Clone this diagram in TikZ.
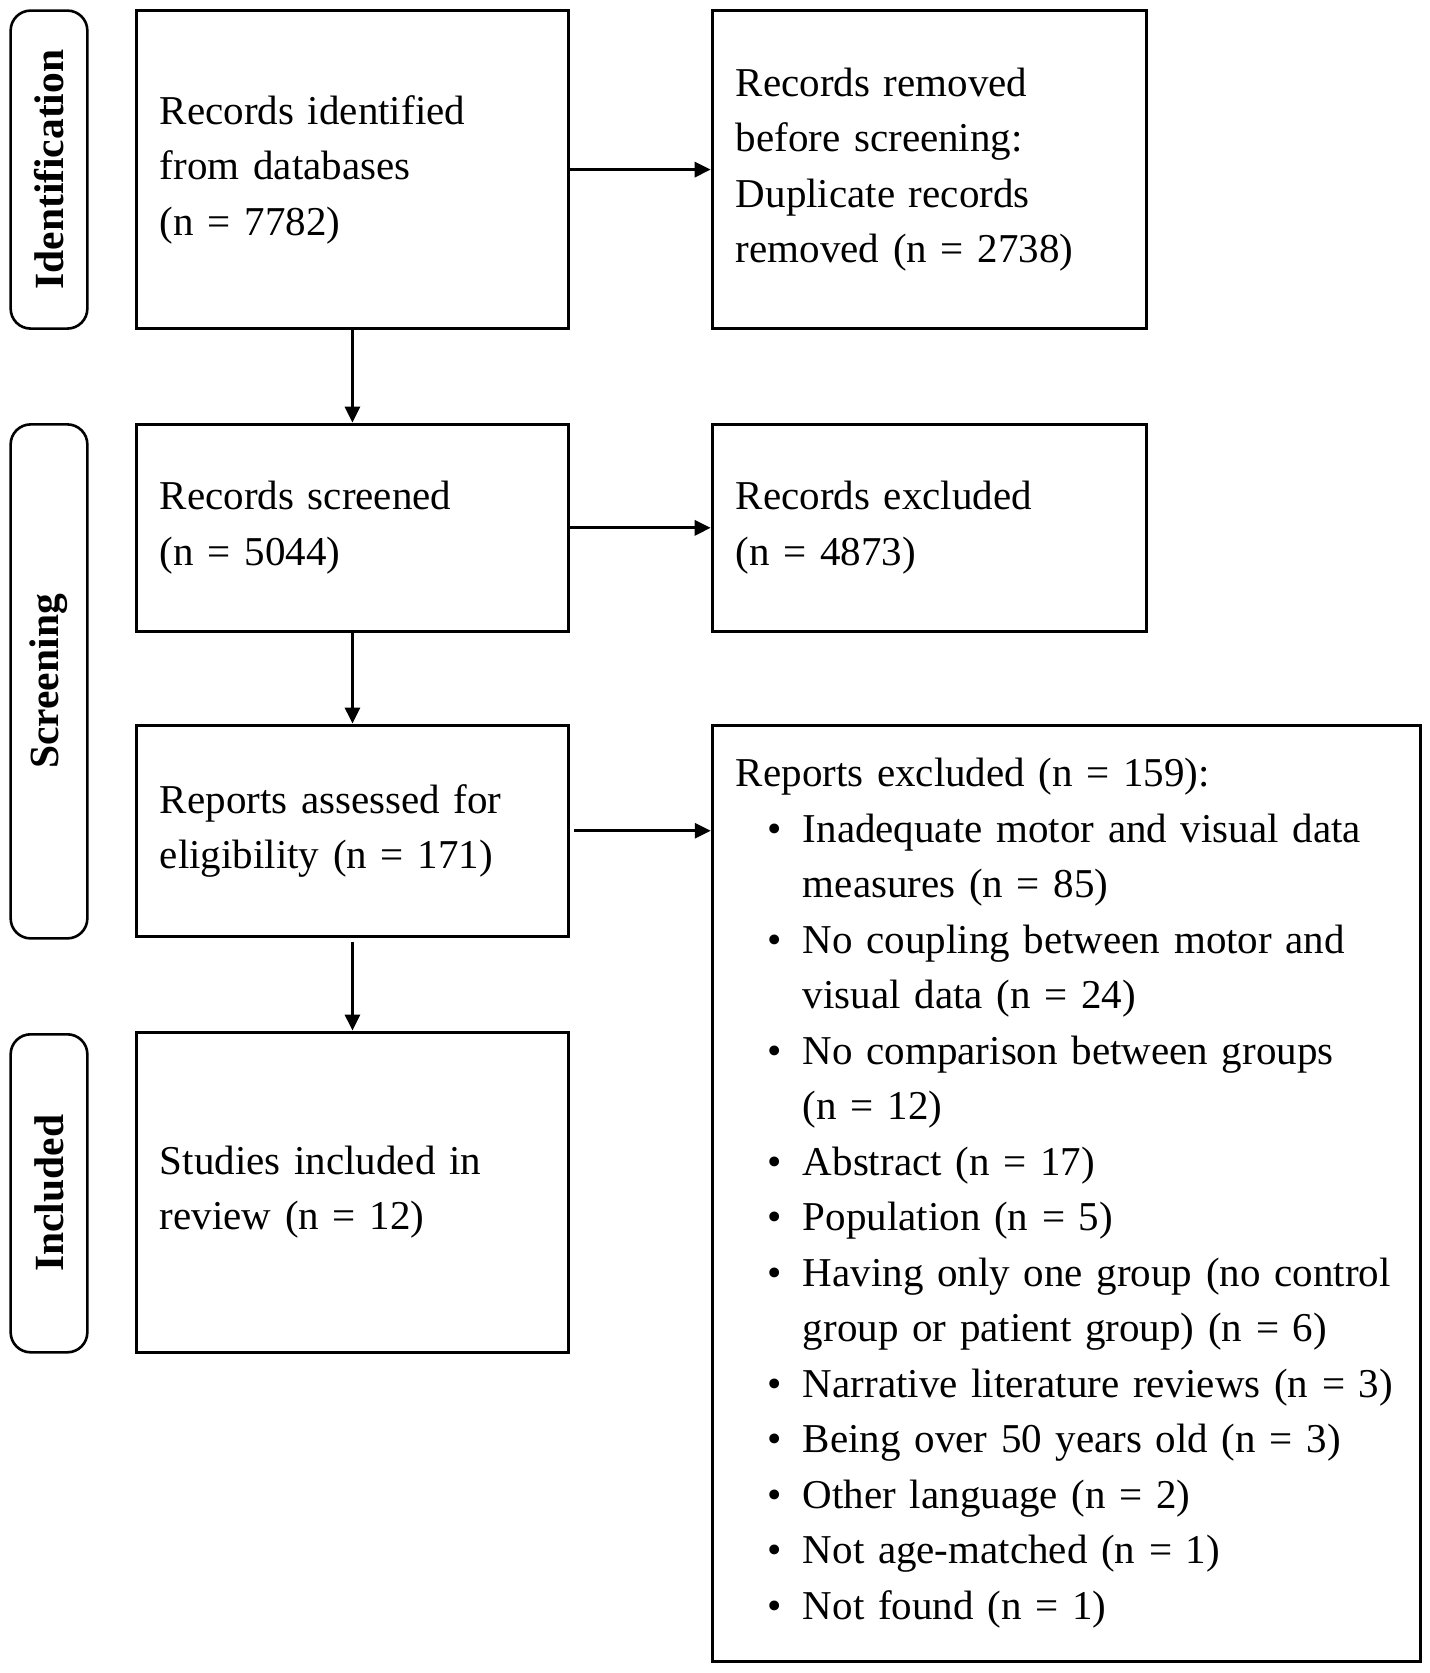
\documentclass[tikz,border=0pt]{standalone}
\usepackage{fontspec}
\setmainfont{Liberation Serif}
\usetikzlibrary{arrows.meta}
\newcommand\mainsz{\fontsize{20.5pt}{27.75pt}\selectfont\spaceskip=0.2em plus 0.05em minus 0.02em\relax}
\newcommand\pillsz{\fontsize{20.75pt}{24pt}\selectfont}
\newcommand\bul{\hspace*{16pt}\makebox[17.5pt][l]{\textbullet}}
\newcommand\cont{\hspace*{33.5pt}}
\newcommand\rline[1]{\mbox{#1}}
\begin{document}
\begin{tikzpicture}[x=0.5pt,y=-0.5pt,
  box/.style={draw, line width=1.7pt, inner xsep=11.75pt, inner ysep=0pt, align=left, font=\mainsz},
  pill/.style={draw, line width=1.3pt, rounded corners=10pt, inner sep=0pt, rotate=90, font=\pillsz\bfseries},
  arr/.style={line width=1.5pt, -{Triangle[length=8pt,width=7.5pt]}}]
\useasboundingbox (0,0) rectangle (1429,1673);

% phase labels
\node[pill, minimum width=159pt, minimum height=38.35pt] (p1) at (49,169.6) {Identification};
\node[pill, minimum width=257pt, minimum height=38.35pt] (p2) at (49,681.4) {Screening};
\node[pill, minimum width=159pt, minimum height=38.35pt] (p3) at (49,1193.3) {Included};

% boxes
\node[box, text width=192.5pt, minimum height=159pt] (b1) at (352.45,169.6)
  {Records identified\\from databases\\(n = 7782)};
\node[box, text width=193.5pt, minimum height=159pt] (b2) at (929.4,169.6)
  {Records removed\\before screening:\\Duplicate records\\removed (n = 2738)};
\node[box, text width=192.5pt, minimum height=103.5pt] (b3) at (352.45,527.85)
  {Records screened\\(n = 5044)};
\node[box, text width=193.5pt, minimum height=103.5pt] (b4) at (929.4,527.85)
  {Records excluded\\(n = 4873)};
\node[box, text width=192.5pt, minimum height=105.5pt] (b5) at (352.45,830.75)
  {Reports assessed for\\eligibility (n = 171)};
\node[box, text width=330.5pt, minimum height=468.15pt] (b6) at (1066.45,1193.35)
  {\rline{Reports excluded (n = 159):}\\
   \rline{\bul Inadequate motor and visual data}\\
   \rline{\cont measures (n = 85)}\\
   \rline{\bul No coupling between motor and}\\
   \rline{\cont visual data (n = 24)}\\
   \rline{\bul No comparison between groups}\\
   \rline{\cont (n = 12)}\\
   \rline{\bul Abstract (n = 17)}\\
   \rline{\bul Population (n = 5)}\\
   \rline{\bul Having only one group (no control}\\
   \rline{\cont group or patient group) (n = 6)}\\
   \rline{\bul Narrative literature reviews (n = 3)}\\
   \rline{\bul Being over 50 years old (n = 3)}\\
   \rline{\bul Other language (n = 2)}\\
   \rline{\bul Not age-matched (n = 1)}\\
   \rline{\bul Not found (n = 1)}};
\node[box, text width=192.5pt, minimum height=160pt] (b7) at (352.45,1192.25)
  {Studies included in\\review (n = 12)};

% connectors
\draw[arr] (b1.south) -- (b3.north);
\draw[arr] (b3.south) -- (b5.north);
\draw[arr, shorten <=2pt] (b5.south) -- (b7.north);
\draw[arr] (b1.east) -- (b2.west);
\draw[arr] (b3.east) -- (b4.west);
\draw[arr, shorten <=2pt] (b5.east) -- (b5.east -| b6.west);
\end{tikzpicture}
\end{document}
